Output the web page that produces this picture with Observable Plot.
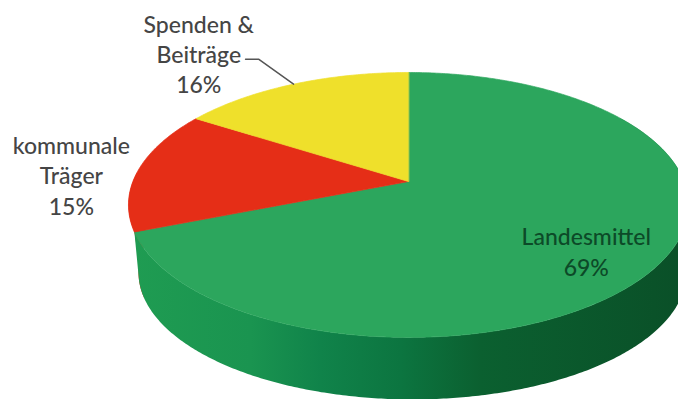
<!DOCTYPE html>
<html>
<head>
<meta charset="utf-8">
<script src="https://cdn.jsdelivr.net/npm/d3@7"></script>
<script src="https://cdn.jsdelivr.net/npm/@observablehq/plot@0.6"></script>
<style>
  html, body { margin: 0; padding: 0; background: #fff; }
  svg { display: block; }
</style>
</head>
<body>
<script>
// Funding shares, clockwise from twelve o'clock
const sources = ["Landesmittel", "kommunale\nTräger", "Spenden &\nBeiträge"];
const shares = [69, 15, 16];
const sliceColors = ["#2ca65d", "#e52e17", "#efe02b"];
const labelColors = ["#0c4a28", "#454545", "#454545"];

// Where each label sits relative to its slice
const labelRadii = [0.75, 1.3, 1.4];
const labelShiftX = [-7, 12, -57];
const labelShiftY = [11, 8.5, 1];

// Perspective disc for the top face
const hub = { x: 408, y: 181 };
const spread = { x: 275.6, y: 128.3 };
const tilt = 0.177;
const faceEllipse = { x: 408, y: 204.5, rx: 280, ry: 132.5 };
const baseEllipse = { x: 412, y: 272, rx: 274, ry: 127 };

// Shading of the outer wall from left to right
const shadeStops = [130, 250, 320, 400, 480, 680];
const shadeColors = ["#1f9c52", "#1a9450", "#10834a", "#0c7540", "#0b6030", "#0a5028"];

const turn = Math.PI * 2;
const total = d3.sum(shares);

function project(angle, radius = 1) {
  const sx = Math.sin(angle) * radius;
  const sy = Math.cos(angle) * radius;
  const w = 1 + tilt * sy;
  return { x: hub.x + (spread.x * sx) / w, y: hub.y - (spread.y * sy) / w };
}

// The point on the lower rim beneath a point of the upper rim
function below(angle) {
  const p = project(angle);
  const c = (p.x - faceEllipse.x) / faceEllipse.rx;
  const s = (p.y - faceEllipse.y) / faceEllipse.ry;
  return { x: baseEllipse.x + baseEllipse.rx * c, y: baseEllipse.y + baseEllipse.ry * s };
}

let running = 0;
const slices = shares.map((share, i) => {
  const start = (running / total) * turn;
  running += share;
  const end = (running / total) * turn;
  return { i, start, end, mid: (start + end) / 2 };
});

const sweep = (from, to) => {
  const steps = Math.ceil(Math.abs(to - from) / 0.01);
  return d3.range(steps + 1).map((k) => from + ((to - from) * k) / steps);
};

// Top face wedges
const facePoints = slices.flatMap((s) =>
  [hub, ...sweep(s.start, s.end).map((a) => project(a))].map((p) => ({
    ...p,
    id: s.i,
    color: sliceColors[s.i]
  }))
);

// Outer wall: the green front, with a sliver of the red slice behind it on the left
const wallBand = (from, to, overshoot) => [
  ...sweep(from, to).map((a) => project(a)),
  ...sweep(to + overshoot, from).map((a) => below(a))
];
const redWall = wallBand(slices[1].start, slices[1].start + 0.45, 0);
const greenWall = wallBand(slices[0].start + 1.0, slices[0].end, 0.14);

// Labels
const labels = slices.map((s) => ({
  ...project(s.mid, labelRadii[s.i]),
  text: `${sources[s.i]}\n${shares[s.i]}%`,
  color: labelColors[s.i]
}));

// Leader from the yellow slice's rim to its label
const rimPoint = project(slices[2].mid);
const leader = [
  { x: rimPoint.x, y: rimPoint.y },
  { x: rimPoint.x - 35, y: rimPoint.y - 25 },
  { x: rimPoint.x - 48, y: rimPoint.y - 25 }
];

// Horizontal gradient used by the green wall
function shadeDefs() {
  const svgNS = "http://www.w3.org/2000/svg";
  const defs = document.createElementNS(svgNS, "defs");
  const gradient = document.createElementNS(svgNS, "linearGradient");
  gradient.setAttribute("id", "wall-shade");
  gradient.setAttribute("gradientUnits", "userSpaceOnUse");
  gradient.setAttribute("x1", 0);
  gradient.setAttribute("x2", 678);
  gradient.setAttribute("y1", 0);
  gradient.setAttribute("y2", 0);
  shadeStops.forEach((stopX, i) => {
    const stop = document.createElementNS(svgNS, "stop");
    stop.setAttribute("offset", stopX / 678);
    stop.setAttribute("stop-color", shadeColors[i]);
    gradient.appendChild(stop);
  });
  defs.appendChild(gradient);
  return defs;
}

const labelMark = (i) =>
  Plot.text([labels[i]], {
    x: "x",
    y: "y",
    text: "text",
    fill: labels[i].color,
    dx: labelShiftX[i],
    dy: labelShiftY[i],
    fontFamily: "Lato",
    fontSize: 23,
    fontWeight: 500,
    lineHeight: 1.32,
    textAnchor: "middle"
  });

const chart = Plot.plot({
  width: 678,
  height: 399,
  margin: 0,
  x: { domain: [0, 678], range: [0, 678], axis: null },
  y: { domain: [0, 399], range: [0, 399], axis: null },
  marks: [
    shadeDefs,
    Plot.line(redWall, { x: "x", y: "y", fill: sliceColors[1], stroke: "none", curve: "linear-closed" }),
    Plot.line(greenWall, { x: "x", y: "y", fill: "url(#wall-shade)", stroke: "none", curve: "linear-closed" }),
    Plot.line(facePoints, {
      x: "x",
      y: "y",
      z: "id",
      fill: "color",
      stroke: "color",
      strokeWidth: 0.7,
      curve: "linear-closed"
    }),
    Plot.line(leader, { x: "x", y: "y", stroke: "#555", strokeWidth: 1.5 }),
    labelMark(0),
    labelMark(1),
    labelMark(2)
  ]
});
document.body.appendChild(chart);
</script>
</body>
</html>
